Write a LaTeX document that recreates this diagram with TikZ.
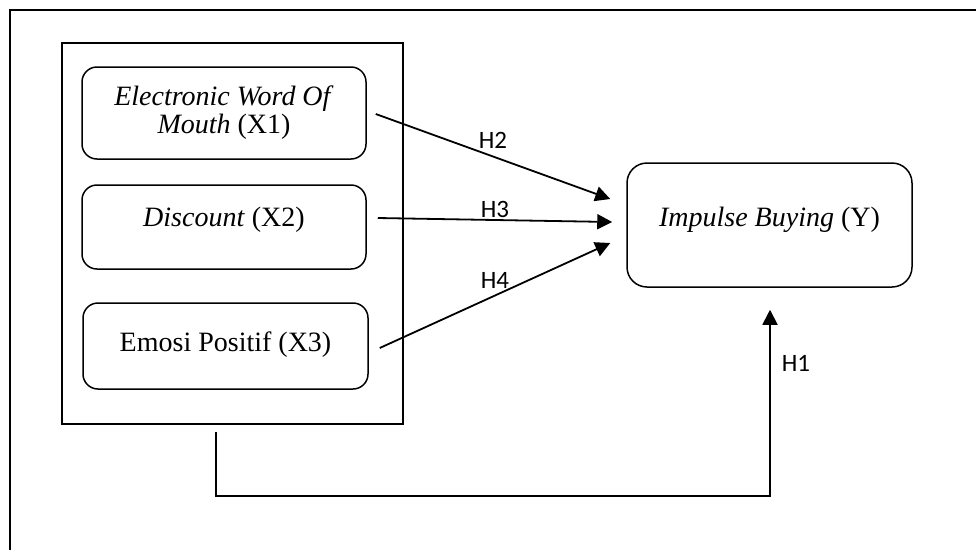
\documentclass[tikz,border=0pt]{standalone}
\usepackage{fontspec}
\setmainfont{Liberation Serif}
\newfontfamily\hfont{Carlito}
\usetikzlibrary{arrows.meta}

\begin{document}
\begin{tikzpicture}[x=1pt,y=-1pt,
        var/.style={draw,line width=1.5pt,rounded corners=15pt,minimum width=284pt,inner sep=0pt,font=\fontsize{28}{28}\selectfont},
        hyp/.style={line width=1.8pt,-{Triangle[length=15pt,width=15pt]}},
        hlab/.style={font=\hfont\fontsize{25}{25}\selectfont,inner sep=0pt}]
        \useasboundingbox (0,0) rectangle (976,550);
        \draw[line width=2pt] (976,10) -- (10,10) -- (10,550);
        \node[draw,line width=2pt,minimum width=341pt,minimum height=381pt] (grp) at (232.5,233.5) {};
        \node[var,minimum height=92pt,align=center] (x1) at (224,113) {\textit{Electronic Word Of}\\\textit{Mouth} (X1)};
        \node[var,minimum height=84pt,text height=19pt,text depth=21pt] (x2) at (224,227) {\textit{Discount} (X2)};
        \node[var,minimum width=285pt,minimum height=86pt,text height=19pt,text depth=9pt] (x3) at (225.5,346) {Emosi Positif (X3)};
        \node[var,rounded corners=20pt,minimum width=285pt,minimum height=124pt,text height=19pt,text depth=17pt] (y) at (769.5,225) {\textit{Impulse Buying} (Y)};
        \draw[hyp] ([xshift=9pt,yshift=-1pt]x1.east) -- ([xshift=-16pt,yshift=26pt]y.west) node[hlab,midway,above=7pt]{H2};
        \draw[hyp] ([xshift=11pt,yshift=9pt]x2.east) -- ([xshift=-14pt,yshift=3pt]y.west) node[hlab,midway,above=1.5pt]{H3};
        \draw[hyp] ([xshift=11pt,yshift=-2pt]x3.east) -- ([xshift=-16pt,yshift=-18pt]y.west) node[hlab,midway,above=6.5pt]{H4};
        \draw[hyp] ([xshift=-16.5pt,yshift=-7pt]grp.south) -- ++(0,64) -| ([xshift=0.5pt,yshift=-22pt]y.south) node[hlab,pos=0.855,right=11pt]{H1};
\end{tikzpicture}
\end{document}
